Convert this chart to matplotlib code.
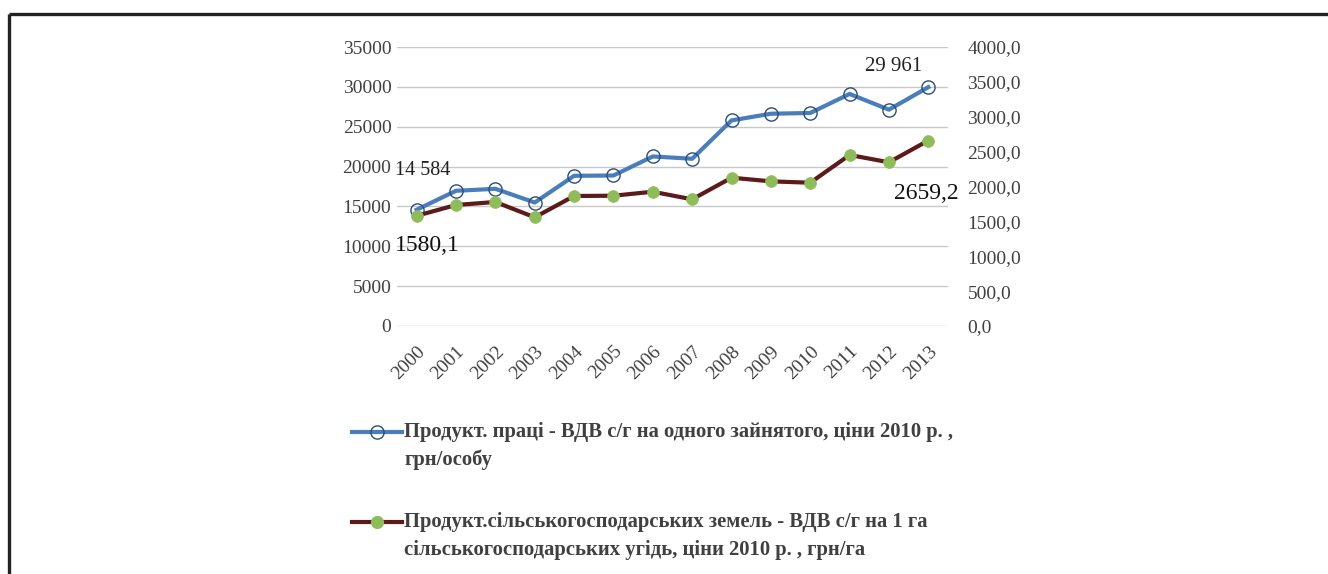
import matplotlib
matplotlib.use("Agg")
import matplotlib.pyplot as plt
import matplotlib.transforms as mtransforms
from matplotlib.lines import Line2D

years = ["2000", "2001", "2002", "2003", "2004", "2005", "2006", "2007",
         "2008", "2009", "2010", "2011", "2012", "2013"]
labour = [14584, 16960, 17210, 15490, 18840, 18880, 21270, 20980,
          25790, 26630, 26720, 29110, 27140, 29961]
land = [1580.1, 1735, 1778, 1558, 1864, 1868, 1925, 1816,
        2126, 2074, 2054, 2452, 2347, 2659.2]
left_ticks = [0, 5000, 10000, 15000, 20000, 25000, 30000, 35000]
right_ticks = [0, 500, 1000, 1500, 2000, 2500, 3000, 3500, 4000]
legend_labels = ["Продукт. праці - ВДВ с/г на одного зайнятого, ціни 2010 р. ,\nгрн/особу",
                 "Продукт.сільськогосподарських земель - ВДВ с/г на 1 га\nсільськогосподарських угідь, ціни 2010 р. , грн/га"]

plt.rcParams['font.family'] = ['Liberation Serif', 'DejaVu Serif']

W, H = 1328, 574
fig = plt.figure(figsize=(W / 100, H / 100), dpi=100)

def fx(px):
    return px / W

def fy(py):
    return 1 - py / H

ax = fig.add_axes([fx(397), fy(326), fx(948) - fx(397), fy(47) - fy(326)])
ax2 = ax.twinx()

blue = "#4a7ebb"
dred = "#5c1a1b"
green = "#8fbc5a"
tcol = "#404040"

x = list(range(len(years)))
ax.plot(x, labour, color=blue, lw=3.0, marker='o', ms=9.5, mfc='none',
        mec="#2c4d7a", mew=1.0, zorder=3)
ax2.plot(x, land, color=dred, lw=3.0, marker='o', ms=8.5, mfc=green,
         mec=green, mew=0.5, zorder=3)

ax.set_xlim(-0.5, len(years) - 0.5)
ax.set_ylim(0, 35000)
ax2.set_ylim(0, 4000)
ax.set_yticks(left_ticks)
ax.set_yticklabels([str(v) for v in left_ticks])
ax2.set_yticks(right_ticks)
ax2.set_yticklabels([f"{v},0" for v in right_ticks])
ax.set_xticks(x)
ax.set_xticklabels(years, rotation=45, ha='right', va='top',
                   rotation_mode='anchor')
shift = mtransforms.ScaledTranslation(-5 / 100, 2 / 100, fig.dpi_scale_trans)
for lbl in ax.get_xticklabels():
    lbl.set_transform(lbl.get_transform() + shift)

ax.grid(axis='y', color='#c8c8c8', lw=1.0)
ax.set_axisbelow(True)
for a in (ax, ax2):
    for s in a.spines.values():
        s.set_visible(False)
ax.tick_params(axis='y', length=0, pad=4, labelsize=14, labelcolor=tcol)
ax.tick_params(axis='x', length=0, pad=12, labelsize=14, labelcolor=tcol)
ax2.tick_params(axis='y', length=0, pad=14, labelsize=14, labelcolor=tcol)

# data labels
ax.annotate("14 584", (0, labour[0]), xytext=(-22, 39), textcoords='offset pixels',
            ha='left', va='center', fontsize=14.5, color='#222222')
ax2.annotate("1580,1", (0, land[0]), xytext=(-22, -30), textcoords='offset pixels',
             ha='left', va='center', fontsize=17, color='#111111')
ax.annotate("29 961", (13, labour[-1]), xytext=(-6, 21), textcoords='offset pixels',
            ha='right', va='center', fontsize=15, color='#222222')
ax2.annotate("2659,2", (13, land[-1]), xytext=(30, -53), textcoords='offset pixels',
             ha='right', va='center', fontsize=17, color='#111111')

# legend (manual)
leg_y = [432, 522]
styles = [dict(color=blue, mfc='none', mec="#2c4d7a", ms=9.5),
          dict(color=dred, mfc=green, mec=green, ms=8.5)]
for yy, st, lab in zip(leg_y, styles, legend_labels):
    fig.add_artist(Line2D([fx(352), fx(402)], [fy(yy), fy(yy)], color=st['color'],
                          lw=3.0, transform=fig.transFigure))
    fig.add_artist(Line2D([fx(377)], [fy(yy)], marker='o', ms=st['ms'], mfc=st['mfc'],
                          mec=st['mec'], mew=1.0, lw=0, transform=fig.transFigure))
    fig.text(fx(404), fy(yy - 10), lab, ha='left', va='top', fontsize=14.9,
             fontweight='bold', color=tcol, linespacing=1.5)

# frame
fig.add_artist(Line2D([fx(9), fx(1328)], [fy(14), fy(14)], color='#222222', lw=2.4,
                      transform=fig.transFigure, solid_capstyle='butt'))
fig.add_artist(Line2D([fx(9), fx(9)], [fy(14), fy(574)], color='#222222', lw=2.4,
                      transform=fig.transFigure, solid_capstyle='butt'))

fig.savefig("out.png", dpi=100)
